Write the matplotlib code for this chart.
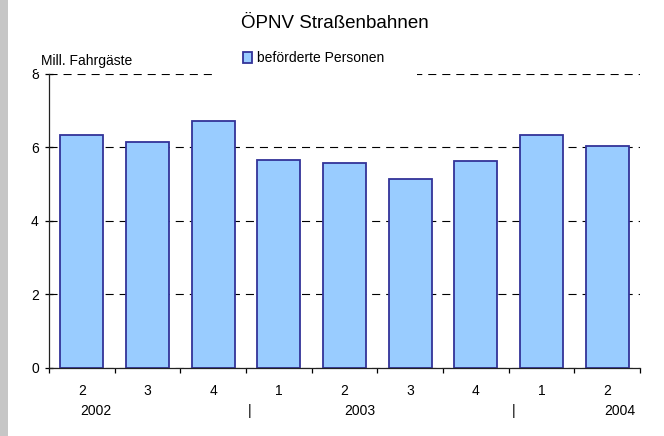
import matplotlib
matplotlib.use("Agg")
import matplotlib.pyplot as plt
import matplotlib.transforms as mtransforms
from matplotlib.patches import Rectangle
import numpy as np

# ============================== Data ==============================
quarters = ["2", "3", "4", "1", "2", "3", "4", "1", "2"]
passengers = [6.33, 6.15, 6.72, 5.66, 5.58, 5.15, 5.64, 6.33, 6.04]  # Mill. Fahrgaeste
years = ["2002", "2003", "2004"]
year_pos = [0.22, 4.23, 8.19]      # where the year labels sit (category units)
sep_pos = [2.56, 6.58]             # the "|" separators between years

plt.rcParams["font.family"] = ["Liberation Sans", "DejaVu Sans"]
plt.rcParams["font.size"] = 10
plt.rcParams["lines.scale_dashes"] = False

W, H = 664, 436
fig = plt.figure(figsize=(W / 100, H / 100), dpi=100)
ax = fig.add_axes([49 / W, 1 - 367.7 / H, 591 / W, 293.9 / H])

# grey stripe at the left border
fig.patches.append(Rectangle((0, 0), 8 / W, 1, transform=fig.transFigure,
                             facecolor="#c6c6c6", edgecolor="none", zorder=-1))

# ============================== Bars ==============================
x = np.arange(len(passengers))
ax.bar(x, passengers, width=0.65, color="#99ccff", edgecolor="#333399",
       linewidth=1.3, zorder=2, label="beförderte Personen")

ax.set_xlim(-0.5, len(passengers) - 0.5)
ax.set_ylim(0, 8)
ax.set_yticks([0, 2, 4, 6, 8])

# dashed gridlines
ax.set_axisbelow(True)
ax.yaxis.grid(True, color="black", linewidth=0.8, linestyle=(0, (5.8, 4.3)))
ax.xaxis.grid(False)

# white box behind the legend hides the top gridline
ax.add_patch(Rectangle((212 / W, 1 - 80 / H), 205 / W, 14 / H,
                       transform=fig.transFigure, facecolor="white",
                       edgecolor="none", clip_on=False, zorder=1))

# spines
for s in ["top", "right"]:
    ax.spines[s].set_visible(False)
for s in ["left", "bottom"]:
    ax.spines[s].set_color("#222222")
    ax.spines[s].set_linewidth(0.9)

# y ticks
ax.tick_params(axis="y", direction="inout", length=6, width=0.9, pad=4.3,
               labelsize=10, colors="black")

# x ticks: marks at boundaries, labels in the middle
ax.set_xticks(x)
ax.set_xticklabels(quarters)
ax.set_xticks(np.arange(len(passengers) + 1) - 0.5, minor=True)
ax.tick_params(axis="x", which="major", length=0, pad=12, labelsize=10)
ax.tick_params(axis="x", which="minor", direction="out", length=3.6, width=0.9)

# year row
trans = mtransforms.blended_transform_factory(ax.transData, ax.transAxes)
yy = (367.7 - 411) / 293.9
for xp, yr in zip(year_pos, years):
    ax.text(xp, yy, yr, transform=trans, ha="center", va="center", fontsize=10)
for xp in sep_pos:
    ax.text(xp, yy, "|", transform=trans, ha="center", va="center", fontsize=10)

# title, axis label, legend
fig.text(334.5 / W, 1 - 23 / H, "ÖPNV Straßenbahnen", ha="center", va="center",
         fontsize=13.5)
# label box overlaps (and hides) the top of the "8", like in the original
fig.text(41 / W, 1 - 64.5 / H, "Mill. Fahrgäste", ha="left", va="baseline",
         fontsize=10, bbox=dict(facecolor="white", edgecolor="none", pad=3.2))

ax.legend(loc="center left", bbox_to_anchor=(243 / W, 1 - 58.5 / H),
          bbox_transform=fig.transFigure, frameon=False, borderpad=0,
          borderaxespad=0, handlelength=0.65, handleheight=0.8,
          handletextpad=0.35, fontsize=10)

fig.savefig("out.png", dpi=100)
